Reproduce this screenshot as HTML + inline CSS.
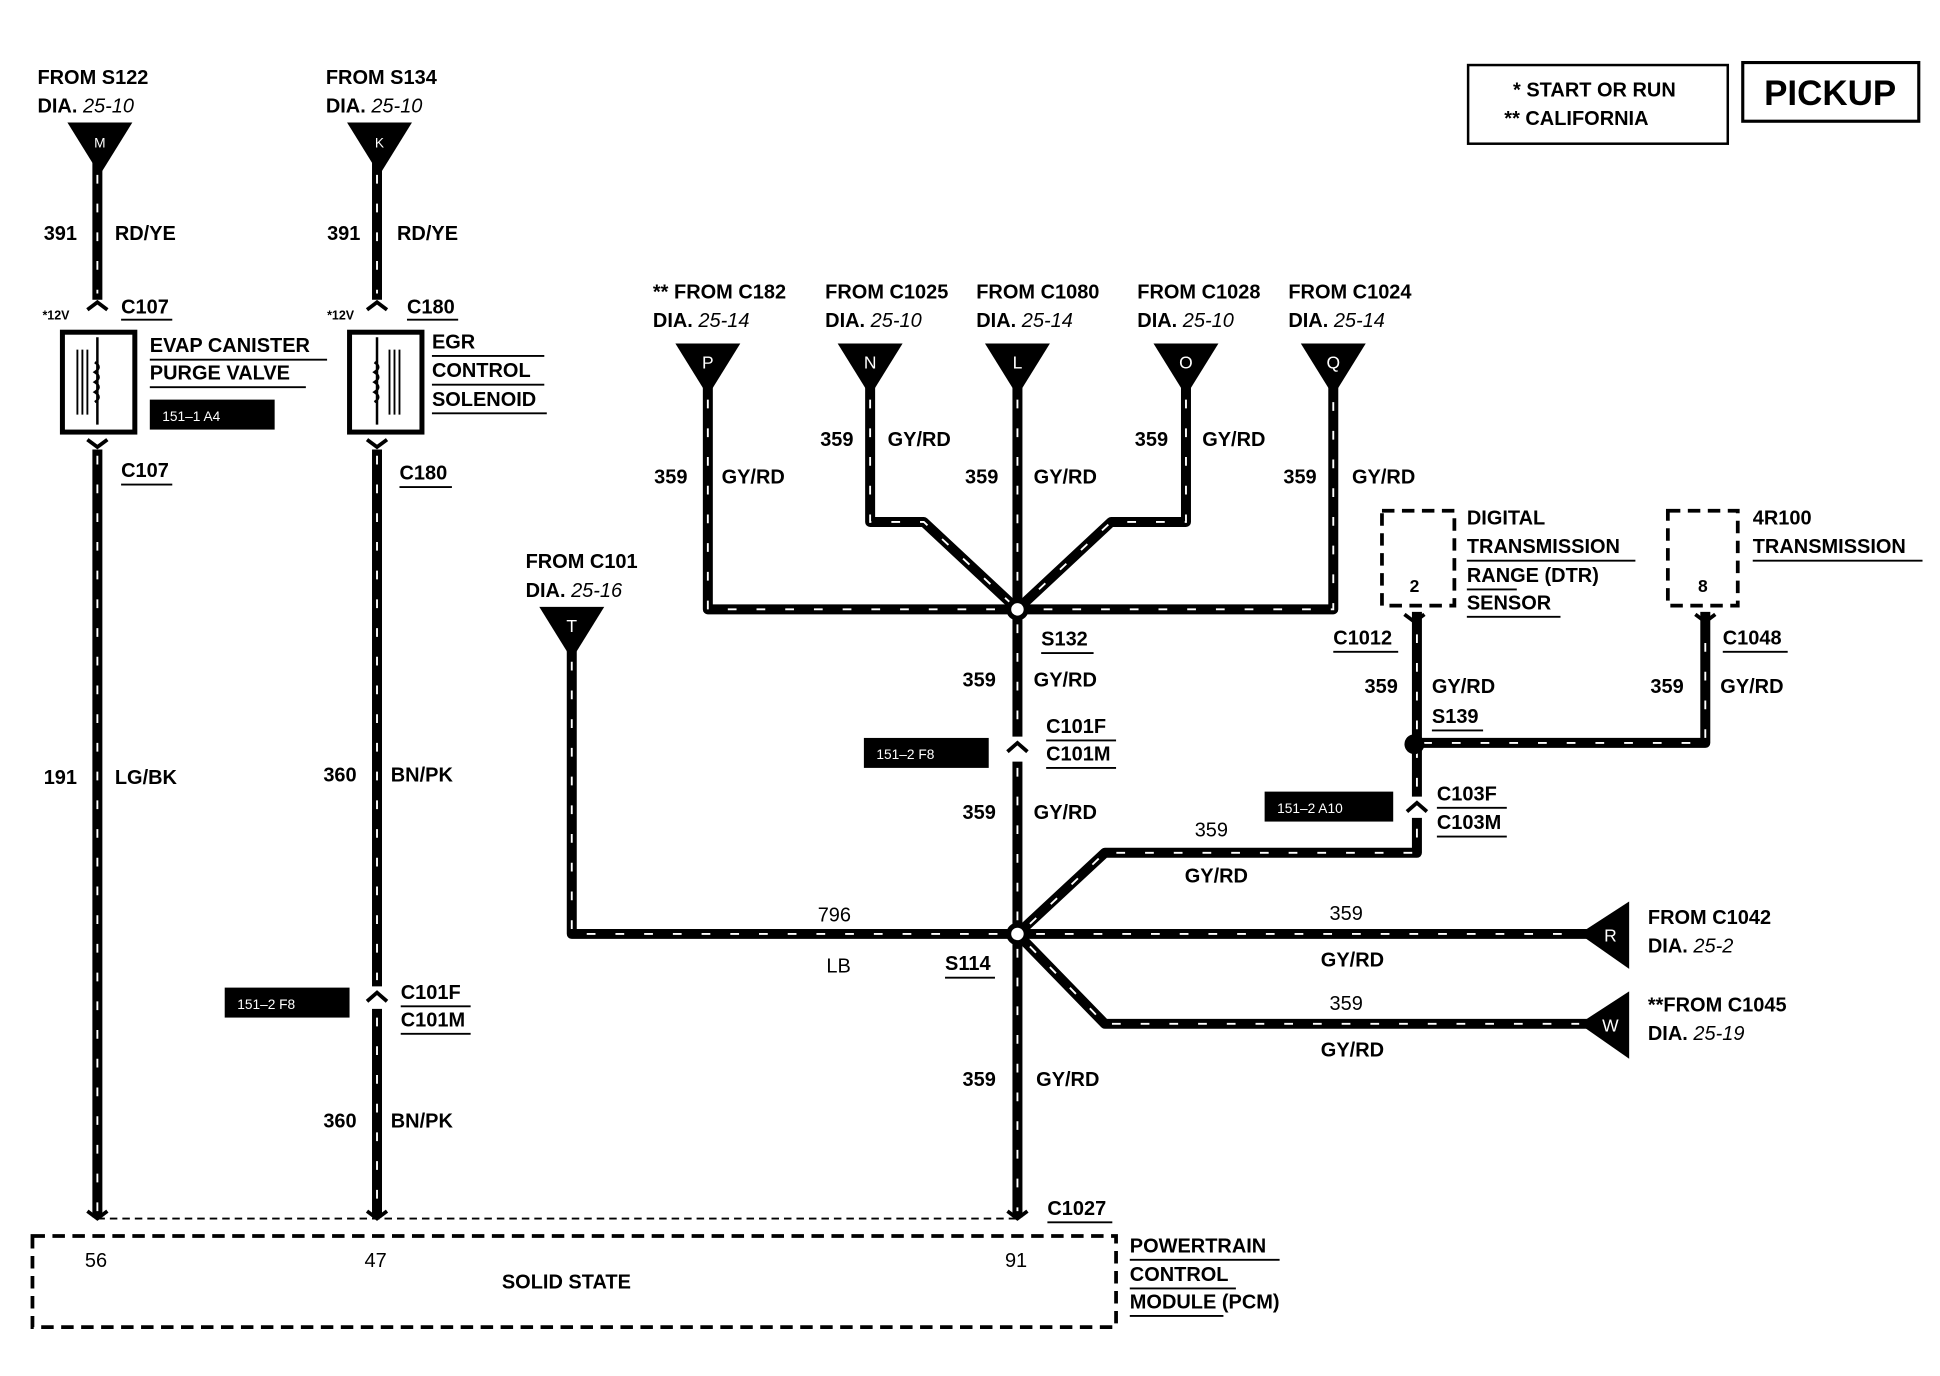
<!DOCTYPE html>
<html><head><meta charset="utf-8"><style>
html,body{margin:0;padding:0;background:#fff;}
svg{display:block;}
text{font-family:"Liberation Sans",sans-serif;font-weight:bold;font-size:16px;fill:#000;}
.i{font-style:italic;font-weight:normal;}
.s{font-size:11px;fill:#fff;font-weight:normal;}
.w{fill:none;stroke:#000;stroke-width:8;stroke-linejoin:round;}
.d{fill:none;stroke:#fff;stroke-width:1.5;stroke-dasharray:7 16;}
.u{stroke:#000;stroke-width:1.5;}
</style></head><body>
<svg width="1940" height="1376" viewBox="0 0 1554 1102" xmlns="http://www.w3.org/2000/svg">
<defs>
<g id="tri"><polygon points="-26,0 26,0 0,42" fill="#000"/></g>
</defs>
<!-- wires -->
<g>
<path class="w" d="M78 130V240M78 360V975"/>
<path class="w" d="M302 130V240M302 360V790M302 808V975"/>
<path class="w" d="M815 310V590M815 610V975"/>
<path class="w" d="M567 310V488H1068V310"/>
<path class="w" d="M697 310V418H740L815 488"/>
<path class="w" d="M950 310V418H890L815 488"/>
<path class="w" d="M458 520V748H815"/>
<path class="w" d="M815 748L885 683H1135V655M1135 638V490"/>
<path class="w" d="M1135 595H1366V490"/>
<path class="w" d="M815 748H1275"/>
<path class="w" d="M815 748L885 820H1275"/>
</g>
<g>
<path class="d" d="M78 140V235M78 365V970"/>
<path class="d" d="M302 140V235M302 365V785M302 815V970"/>
<path class="d" d="M815 320V480M815 500V585M815 615V740M815 760V970"/>
<path class="d" d="M567 320V488H1068V320"/>
<path class="d" d="M697 320V418H740L815 488"/>
<path class="d" d="M950 320V418H890L815 488"/>
<path class="d" d="M458 530V748H800"/>
<path class="d" d="M825 740L885 683H1135V660M1135 630V500"/>
<path class="d" d="M1140 595H1366V500"/>
<path class="d" d="M830 748H1265"/>
<path class="d" d="M825 758L885 820H1265"/>
</g>
<!-- triangles -->
<use href="#tri" x="80" y="98"/><text x="80" y="118" class="s" text-anchor="middle">M</text>
<use href="#tri" x="304" y="98"/><text x="304" y="118" class="s" text-anchor="middle">K</text>
<use href="#tri" x="567" y="275"/><text x="567" y="295" class="s" text-anchor="middle" style="font-size:14px">P</text>
<use href="#tri" x="697" y="275"/><text x="697" y="295" class="s" text-anchor="middle" style="font-size:14px">N</text>
<use href="#tri" x="815" y="275"/><text x="815" y="295" class="s" text-anchor="middle" style="font-size:14px">L</text>
<use href="#tri" x="950" y="275"/><text x="950" y="295" class="s" text-anchor="middle" style="font-size:14px">O</text>
<use href="#tri" x="1068" y="275"/><text x="1068" y="295" class="s" text-anchor="middle" style="font-size:14px">Q</text>
<use href="#tri" x="458" y="486"/><text x="458" y="506" class="s" text-anchor="middle" style="font-size:14px">T</text>
<polygon points="1265,748 1305,722 1305,776" fill="#000"/><text x="1290" y="754" class="s" text-anchor="middle" style="font-size:14px">R</text>
<polygon points="1265,820 1305,794 1305,848" fill="#000"/><text x="1290" y="826" class="s" text-anchor="middle" style="font-size:14px">W</text>
<!-- nodes -->
<circle cx="815" cy="488" r="9" fill="#000"/><circle cx="815" cy="488" r="5" fill="#fff"/>
<circle cx="815" cy="748" r="9" fill="#000"/><circle cx="815" cy="748" r="5" fill="#fff"/>
<circle cx="1133" cy="596" r="8" fill="#000"/>
<!-- connector glyphs -->
<g fill="none" stroke="#000" stroke-width="3">
<path d="M70 248L78 242L86 248M70 352L78 358L86 352"/>
<path d="M294 248L302 242L310 248M294 352L302 358L310 352"/>
<path d="M294 802L302 795L310 802M807 602L815 595L823 602M1127 650L1135 643L1143 650"/>
<path d="M70 970L78 976L86 970M294 970L302 976L310 970M807 970L815 976L823 970"/>
<path d="M1125 492L1133 498L1141 492M1358 492L1366 498L1374 492"/>
</g>
<!-- components -->
<rect x="50" y="266" width="58" height="80" fill="none" stroke="#000" stroke-width="4"/>
<path d="M62 280V332M66 280V332M70 280V332" stroke="#000" stroke-width="1.5"/>
<path d="M78 270V340M76 290q6 4 0 8q6 4 0 8q6 4 0 8q6 4 0 8" fill="none" stroke="#000" stroke-width="2"/>
<rect x="280" y="266" width="58" height="80" fill="none" stroke="#000" stroke-width="4"/>
<path d="M312 280V332M316 280V332M320 280V332" stroke="#000" stroke-width="1.5"/>
<path d="M302 270V340M300 290q6 4 0 8q6 4 0 8q6 4 0 8q6 4 0 8" fill="none" stroke="#000" stroke-width="2"/>
<rect x="1107" y="409" width="58" height="76" fill="none" stroke="#000" stroke-width="3" stroke-dasharray="10 6"/>
<text x="1133" y="474" text-anchor="middle" style="font-size:14px">2</text>
<rect x="1336" y="409" width="56" height="76" fill="none" stroke="#000" stroke-width="3" stroke-dasharray="10 6"/>
<text x="1364" y="474" text-anchor="middle" style="font-size:14px">8</text>
<rect x="26" y="990" width="868" height="73" fill="none" stroke="#000" stroke-width="3" stroke-dasharray="10 6"/>
<line x1="78" y1="976" x2="815" y2="976" stroke="#000" stroke-width="1.5" stroke-dasharray="6 4"/>
<!-- black label boxes -->
<rect x="120" y="320" width="100" height="24" fill="#000"/><text x="130" y="337" class="s">151–1 A4</text>
<rect x="180" y="791" width="100" height="24" fill="#000"/><text x="190" y="808" class="s">151–2 F8</text>
<rect x="692" y="591" width="100" height="24" fill="#000"/><text x="702" y="608" class="s">151–2 F8</text>
<rect x="1013" y="634" width="103" height="24" fill="#000"/><text x="1023" y="651" class="s">151–2 A10</text>
<!-- legend -->
<rect x="1176" y="52" width="208" height="63" fill="none" stroke="#000" stroke-width="2"/>
<text x="1212" y="77">* START OR RUN</text><text x="1205" y="100">** CALIFORNIA</text>
<rect x="1396" y="50" width="141" height="47" fill="none" stroke="#000" stroke-width="2.5"/>
<text x="1466" y="84" text-anchor="middle" style="font-size:28px">PICKUP</text>
<!-- texts -->
<text x="30" y="67">FROM S122</text><text x="30" y="90">DIA. <tspan class="i">25-10</tspan></text>
<text x="261" y="67">FROM S134</text><text x="261" y="90">DIA. <tspan class="i">25-10</tspan></text>
<text x="35" y="192">391</text><text x="92" y="192">RD/YE</text>
<text x="262" y="192">391</text><text x="318" y="192">RD/YE</text>
<text x="34" y="256" style="font-size:10px">*12V</text><text x="262" y="256" style="font-size:10px">*12V</text>
<text x="97" y="251">C107</text><line x1="97" y1="256" x2="138" y2="256" class="u"/>
<text x="326" y="251">C180</text><line x1="326" y1="256" x2="367" y2="256" class="u"/>
<text x="120" y="282">EVAP CANISTER</text><line x1="120" y1="288" x2="262" y2="288" class="u"/>
<text x="120" y="304">PURGE VALVE</text><line x1="120" y1="310" x2="245" y2="310" class="u"/>
<text x="346" y="279">EGR</text>
<text x="346" y="302">CONTROL</text><line x1="346" y1="285" x2="436" y2="285" class="u"/><line x1="346" y1="308" x2="436" y2="308" class="u"/>
<text x="346" y="325">SOLENOID</text><line x1="346" y1="331" x2="438" y2="331" class="u"/>
<text x="97" y="382">C107</text><line x1="97" y1="388" x2="138" y2="388" class="u"/>
<text x="320" y="384">C180</text><line x1="320" y1="390" x2="362" y2="390" class="u"/>
<text x="35" y="628">191</text><text x="92" y="628">LG/BK</text>
<text x="259" y="626">360</text><text x="313" y="626">BN/PK</text>
<text x="321" y="800">C101F</text><text x="321" y="822">C101M</text><line x1="321" y1="806" x2="377" y2="806" class="u"/><line x1="321" y1="828" x2="377" y2="828" class="u"/>
<text x="259" y="903">360</text><text x="313" y="903">BN/PK</text>
<text x="68" y="1015" style="font-weight:normal">56</text><text x="292" y="1015" style="font-weight:normal">47</text><text x="805" y="1015" style="font-weight:normal">91</text>
<text x="402" y="1032">SOLID STATE</text>
<text x="839" y="973">C1027</text><line x1="839" y1="979" x2="891" y2="979" class="u"/>
<text x="905" y="1003">POWERTRAIN</text><line x1="905" y1="1009" x2="1025" y2="1009" class="u"/>
<text x="905" y="1026">CONTROL</text><line x1="905" y1="1032" x2="990" y2="1032" class="u"/>
<text x="905" y="1048">MODULE (PCM)</text><line x1="905" y1="1054" x2="980" y2="1054" class="u"/>
<text x="523" y="239">** FROM C182</text><text x="523" y="262">DIA. <tspan class="i">25-14</tspan></text>
<text x="661" y="239">FROM C1025</text><text x="661" y="262">DIA. <tspan class="i">25-10</tspan></text>
<text x="782" y="239">FROM C1080</text><text x="782" y="262">DIA. <tspan class="i">25-14</tspan></text>
<text x="911" y="239">FROM C1028</text><text x="911" y="262">DIA. <tspan class="i">25-10</tspan></text>
<text x="1032" y="239">FROM C1024</text><text x="1032" y="262">DIA. <tspan class="i">25-14</tspan></text>
<text x="524" y="387">359</text><text x="578" y="387">GY/RD</text>
<text x="657" y="357">359</text><text x="711" y="357">GY/RD</text>
<text x="773" y="387">359</text><text x="828" y="387">GY/RD</text>
<text x="909" y="357">359</text><text x="963" y="357">GY/RD</text>
<text x="1028" y="387">359</text><text x="1083" y="387">GY/RD</text>
<text x="421" y="455">FROM C101</text><text x="421" y="478">DIA. <tspan class="i">25-16</tspan></text>
<text x="834" y="517">S132</text><line x1="834" y1="523" x2="876" y2="523" class="u"/>
<text x="771" y="550">359</text><text x="828" y="550">GY/RD</text>
<text x="838" y="587">C101F</text><text x="838" y="609">C101M</text><line x1="838" y1="593" x2="894" y2="593" class="u"/><line x1="838" y1="615" x2="894" y2="615" class="u"/>
<text x="771" y="656">359</text><text x="828" y="656">GY/RD</text>
<text x="655" y="738" style="font-weight:normal">796</text><text x="662" y="779" style="font-weight:normal">LB</text>
<text x="757" y="777">S114</text><line x1="757" y1="783" x2="797" y2="783" class="u"/>
<text x="957" y="670" style="font-weight:normal">359</text><text x="949" y="707">GY/RD</text>
<text x="1065" y="737" style="font-weight:normal">359</text><text x="1058" y="774">GY/RD</text>
<text x="1065" y="809" style="font-weight:normal">359</text><text x="1058" y="846">GY/RD</text>
<text x="771" y="870">359</text><text x="830" y="870">GY/RD</text>
<text x="1320" y="740">FROM C1042</text><text x="1320" y="763">DIA. <tspan class="i">25-2</tspan></text>
<text x="1320" y="810">**FROM C1045</text><text x="1320" y="833">DIA. <tspan class="i">25-19</tspan></text>
<text x="1175" y="420">DIGITAL</text>
<text x="1175" y="443">TRANSMISSION</text><line x1="1175" y1="449" x2="1310" y2="449" class="u"/>
<text x="1175" y="466">RANGE (DTR)</text><line x1="1175" y1="472" x2="1215" y2="472" class="u"/>
<text x="1175" y="488">SENSOR</text><line x1="1175" y1="494" x2="1250" y2="494" class="u"/>
<text x="1404" y="420">4R100</text>
<text x="1404" y="443">TRANSMISSION</text><line x1="1404" y1="449" x2="1540" y2="449" class="u"/>
<text x="1068" y="516">C1012</text><line x1="1068" y1="522" x2="1120" y2="522" class="u"/>
<text x="1380" y="516">C1048</text><line x1="1380" y1="522" x2="1432" y2="522" class="u"/>
<text x="1093" y="555">359</text><text x="1147" y="555">GY/RD</text>
<text x="1322" y="555">359</text><text x="1378" y="555">GY/RD</text>
<text x="1147" y="579">S139</text><line x1="1147" y1="585" x2="1188" y2="585" class="u"/>
<text x="1151" y="641">C103F</text><text x="1151" y="664">C103M</text><line x1="1151" y1="647" x2="1207" y2="647" class="u"/><line x1="1151" y1="670" x2="1207" y2="670" class="u"/>
</svg>
</body></html>
